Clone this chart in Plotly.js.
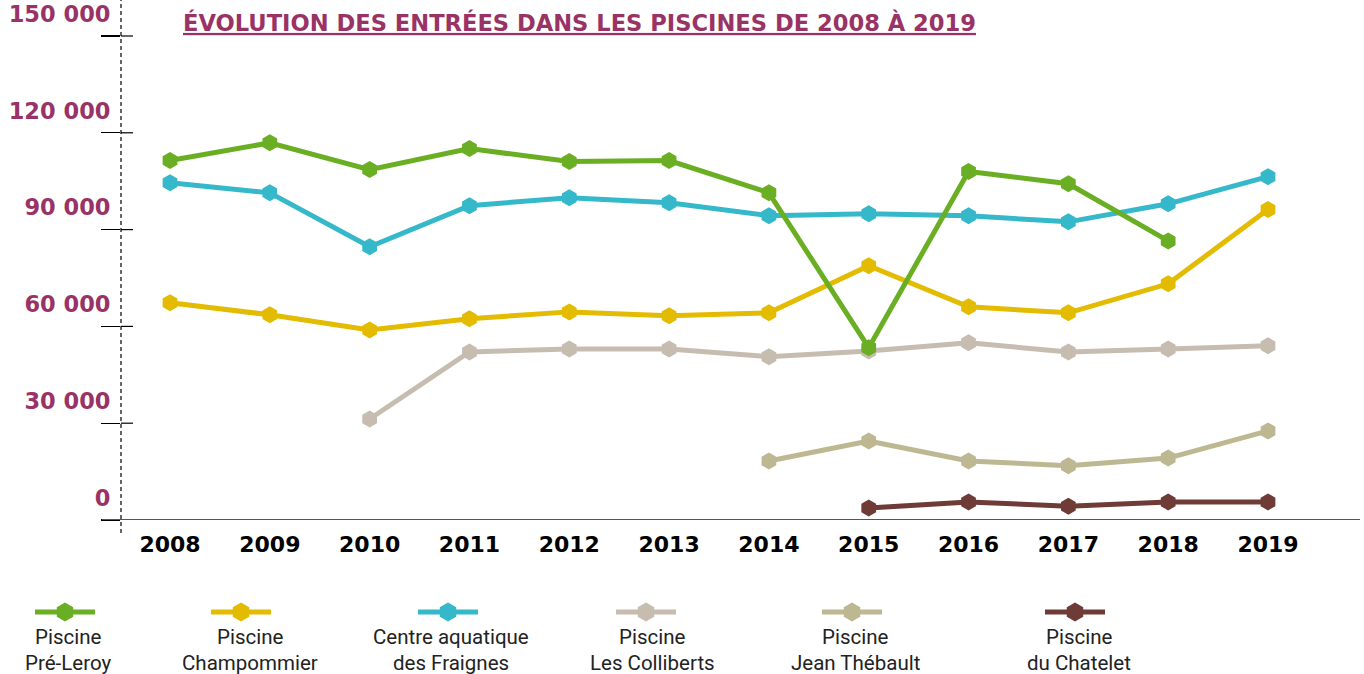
<!DOCTYPE html>
<html>
<head>
<meta charset="utf-8">
<script src="https://cdn.plot.ly/plotly-3.0.1.min.js"></script>
<style>
  html, body { margin: 0; padding: 0; background: #ffffff; }
  #chart { width: 1364px; height: 674px; }
</style>
</head>
<body>
<div id="chart"></div>
<script>
// ---------- DATA ----------
const years = [2008, 2009, 2010, 2011, 2012, 2013, 2014, 2015, 2016, 2017, 2018, 2019];
const yearLabels = ["2008", "2009", "2010", "2011", "2012", "2013", "2014", "2015", "2016", "2017", "2018", "2019"];

const preLeroy     = [111400, 116900, 108600, 115100, 111100, 111400, 101400, 53400, 108000, 104200, 86500, null];
const champommier  = [67300, 63600, 58900, 62400, 64500, 63300, 64200, 78800, 66100, 64200, 73200, 96200];
const fraignes     = [104500, 101400, 84700, 97400, 99900, 98300, 94300, 94900, 94300, 92400, 98000, 106400];
const colliberts   = [null, null, 31300, 52100, 53000, 53000, 50600, 52400, 54900, 52100, 53000, 54000];
const jeanThebault = [null, null, null, null, null, null, 18300, 24500, 18300, 16800, 19200, 27600];
const chatelet     = [null, null, null, null, null, null, null, 3700, 5600, 4300, 5600, 5600];

const yTickVals  = [0, 30000, 60000, 90000, 120000, 150000];
const yTickText  = ["0", "30 000", "60 000", "90 000", "120 000", "150 000"];

const legendLine1 = ["Piscine", "Piscine", "Centre aquatique", "Piscine", "Piscine", "Piscine"];
const legendLine2 = ["Pré-Leroy", "Champommier", "des Fraignes", "Les Colliberts", "Jean Thébault", "du Chatelet"];

const titleText = "ÉVOLUTION DES ENTRÉES DANS LES PISCINES DE 2008 À 2019";

// ---------- STYLE ----------
const W = 1364, H = 674;
const colors = ["#6aaf23", "#e3bb00", "#34b8ca", "#c7bcb0", "#bdb891", "#6e3b37"];
const seriesData = [preLeroy, champommier, fraignes, colliberts, jeanThebault, chatelet];
const drawOrder = [3, 4, 5, 1, 2, 0];
const purple = "#993366";

const plotLeft = 121, plotBottom = 520;
const legendMarkerX = [65, 241, 448, 646, 852, 1075];
const legendTextX   = [68, 250, 451, 652, 855, 1079];
const legendY = 612;

const traces = [];
drawOrder.forEach(i => {
  traces.push({
    type: "scatter",
    mode: "lines+markers",
    x: years,
    y: seriesData[i],
    line: { color: colors[i], width: 5 },
    marker: { symbol: "hexagon", size: 17, opacity: 1, color: colors[i], line: { width: 0 } },
    cliponaxis: false,
    showlegend: false,
    hoverinfo: "skip"
  });
});
// custom legend keys on a pixel-mapped helper axis
colors.forEach((c, i) => {
  const cx = legendMarkerX[i];
  traces.push({
    type: "scatter",
    mode: "lines+markers",
    xaxis: "x2", yaxis: "y2",
    x: [cx - 30, cx, cx + 30],
    y: [legendY, legendY, legendY],
    line: { color: c, width: 5 },
    marker: { symbol: "hexagon", size: [0, 19, 0], opacity: 1, color: c, line: { width: 0 } },
    cliponaxis: false,
    showlegend: false,
    hoverinfo: "skip"
  });
});

const annotations = [];
const legendFont = { family: "Roboto, 'Open Sans', sans-serif", size: 20.5, color: "#222222" };
legendLine1.forEach((t, i) => {
  annotations.push({
    xref: "paper", yref: "paper",
    x: legendTextX[i] / W, y: 1 - 637 / H,
    xanchor: "center", yanchor: "middle",
    text: t, showarrow: false, font: legendFont
  });
  annotations.push({
    xref: "paper", yref: "paper",
    x: legendTextX[i] / W, y: 1 - 663 / H,
    xanchor: "center", yanchor: "middle",
    text: legendLine2[i], showarrow: false, font: legendFont
  });
});

const shapes = [];
// dashed vertical y axis
shapes.push({
  type: "line", xref: "paper", yref: "paper",
  x0: plotLeft / W, x1: plotLeft / W,
  y0: 1 - 533 / H, y1: 1,
  line: { color: "#000000", width: 1.2, dash: "4px,3px" }
});
// x axis baseline
shapes.push({
  type: "line", xref: "paper", yref: "y",
  x0: 102 / W, x1: 1360 / W, y0: 0, y1: 0,
  line: { color: "#555555", width: 2 }
});
// right-hand part of the crossing tick marks
yTickVals.forEach(v => {
  if (v === 0) return;
  shapes.push({
    type: "line", xref: "paper", yref: "y",
    x0: plotLeft / W, x1: (plotLeft + 12) / W, y0: v, y1: v,
    line: { color: "#000000", width: 1.2 }
  });
});

const pxPerYear = (1268 - 170) / 11;
const layout = {
  width: W, height: H,
  margin: { l: 0, r: 0, t: 0, b: 0, pad: 0 },
  paper_bgcolor: "#ffffff",
  plot_bgcolor: "rgba(0,0,0,0)",
  showlegend: false,
  hovermode: false,
  title: {
    text: titleText,
    xref: "container", yref: "container",
    x: 183 / W, xanchor: "left",
    y: 1 - 23 / H, yanchor: "middle",
    font: { family: "'DejaVu Sans', sans-serif", size: 22.6, weight: "bold", color: purple, lineposition: "under" }
  },
  xaxis: {
    domain: [plotLeft / W, 1],
    range: [2008 - (170 - plotLeft) / pxPerYear, 2019 + (W - 1268) / pxPerYear],
    tickmode: "array", tickvals: years, ticktext: yearLabels,
    ticks: "", showgrid: false, zeroline: false, showline: false,
    tickfont: { family: "'DejaVu Sans', sans-serif", size: 22, weight: "bold", color: "#000000" },
    ticklabelstandoff: 9,
    automargin: false, fixedrange: true
  },
  yaxis: {
    domain: [1 - plotBottom / H, 1],
    range: [0, plotBottom * 30000 / 96.8],
    tickmode: "array", tickvals: yTickVals, ticktext: yTickText,
    ticks: "outside", ticklen: 19, tickwidth: 1.2, tickcolor: "#000000",
    showgrid: false, zeroline: false, showline: false,
    tickfont: { family: "'DejaVu Sans', sans-serif", size: 22.5, weight: "bold", color: purple },
    ticklabelshift: -22,
    ticklabelstandoff: -14,
    automargin: false, fixedrange: true
  },
  xaxis2: { domain: [0, 1], range: [0, W], visible: false, anchor: "y2", fixedrange: true },
  yaxis2: { domain: [0, 135 / H], range: [H, H - 135], visible: false, anchor: "x2", fixedrange: true },
  shapes: shapes,
  annotations: annotations
};

Plotly.newPlot("chart", traces, layout, { staticPlot: true, displayModeBar: false });
</script>
</body>
</html>
